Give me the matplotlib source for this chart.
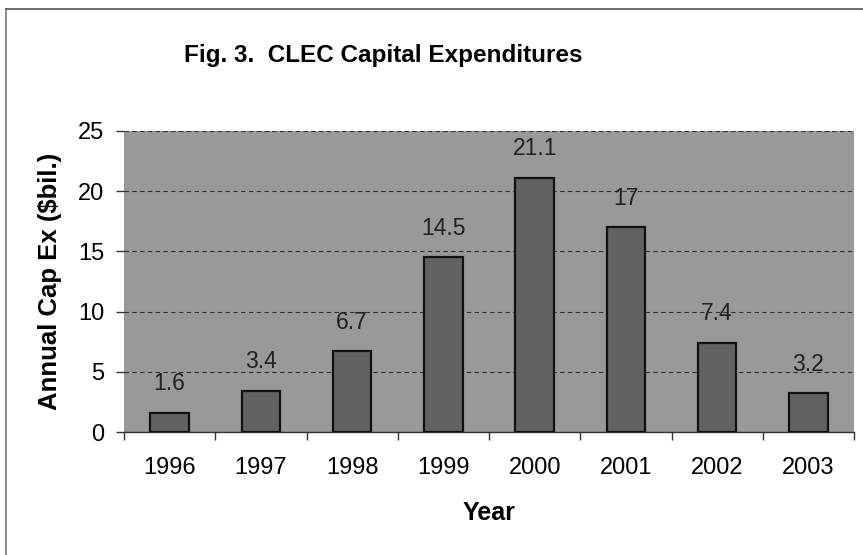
import numpy as np
import matplotlib
matplotlib.use('Agg')
import matplotlib.pyplot as plt
from matplotlib.lines import Line2D

years = ['1996', '1997', '1998', '1999', '2000', '2001', '2002', '2003']
capex = [1.6, 3.4, 6.7, 14.5, 21.1, 17, 7.4, 3.2]
value_labels = ['1.6', '3.4', '6.7', '14.5', '21.1', '17', '7.4', '3.2']

plt.rcParams['font.family'] = ['Liberation Sans', 'DejaVu Sans']

fig = plt.figure(figsize=(8.63, 5.55), dpi=100)
ax = fig.add_axes([0.1437, 0.2216, 0.8459, 0.5424])

x = np.arange(len(years))
ax.set_facecolor('#999999')
ax.bar(x, capex, width=0.42, color='#626262', edgecolor='#111111', linewidth=1.6, zorder=3)

# 数值标签
for xi, v, lab in zip(x, capex, value_labels):
    ax.annotate(lab, (xi, v), xytext=(0, 21), textcoords='offset points',
                ha='center', va='center', fontsize=16.5, color='#222222', zorder=4)

ax.set_xlim(-0.5, len(years) - 0.5)
ax.set_ylim(0, 25)
ax.set_yticks([0, 5, 10, 15, 20, 25])
ax.yaxis.grid(True, linestyle=(0, (4, 3)), color='#333333', linewidth=0.8, zorder=1)

ax.set_xticks(x)
ax.set_xticklabels(years)
ax.set_xticks(np.arange(-0.5, len(years)), minor=True)
ax.tick_params(axis='x', which='major', length=0, pad=18, labelsize=17)
ax.tick_params(axis='x', which='minor', length=6, width=1, direction='out', color='#333333')
ax.tick_params(axis='y', length=6, width=1, color='#333333', labelsize=17, pad=8)

for s in ['top', 'right', 'left']:
    ax.spines[s].set_visible(False)
ax.spines['bottom'].set_color('#333333')
ax.spines['bottom'].set_linewidth(1)

ax.set_xlabel('Year', fontsize=18, fontweight='bold', labelpad=16)
ax.set_ylabel('Annual Cap Ex ($bil.)', fontsize=18.5, fontweight='bold', labelpad=12)

fig.text(0.444, 0.9, 'Fig. 3.  CLEC Capital Expenditures', ha='center', va='center',
         fontsize=17.5, fontweight='bold')

# 外框线
fig.add_artist(Line2D([0.007, 0.007], [0.0, 0.984], color='#777777', linewidth=1.2, transform=fig.transFigure))
fig.add_artist(Line2D([0.007, 1.0], [0.984, 0.984], color='#555555', linewidth=1.2, transform=fig.transFigure))

plt.savefig('out.png', dpi=100)
plt.close()
